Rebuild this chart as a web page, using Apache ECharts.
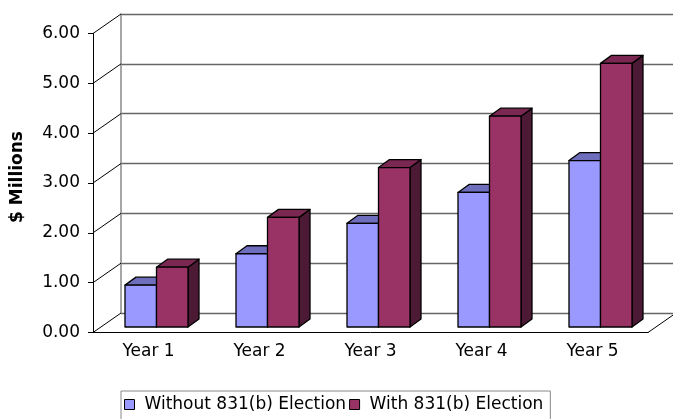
<!DOCTYPE html>
<html>
<head>
<meta charset="UTF-8">
<title>831(b) Election</title>
<style>
  html, body { margin: 0; padding: 0; background: #fff; }
  #chart { width: 673px; height: 419px; }
</style>
</head>
<body>
<div id="chart"></div>
<script src="https://cdn.jsdelivr.net/npm/echarts@6/dist/echarts.min.js"></script>
<script>
var years = ['Year 1', 'Year 2', 'Year 3', 'Year 4', 'Year 5'];
var withoutElection = [0.84, 1.47, 2.08, 2.70, 3.34];
var withElection = [1.20, 2.20, 3.20, 4.23, 5.29];
var yTicks = [0, 1, 2, 3, 4, 5, 6];

var FONT = '"DejaVu Sans", "Liberation Sans", sans-serif';
// depth of the 3d box (back wall offset) and bar placement inside it
var WALL_DX = 28, WALL_DY = -19.5;
var BAR_DX = 8, BAR_DY = -5.5;
var BAR_DEPTH_X = 11, BAR_DEPTH_Y = -8;
var BAR_W = 31.5;

function barRenderer(slot, front, top, side) {
  return function (params, api) {
    var idx = api.value(0);
    var p = api.coord([idx, api.value(1)]);
    var b = api.coord([idx, 0]);
    var L = p[0] - BAR_W + slot * BAR_W + BAR_DX;
    var R = L + BAR_W;
    var T = p[1] + BAR_DY;
    var B = b[1] + BAR_DY;
    var st = { stroke: '#000', lineWidth: 1.3, lineJoin: 'round' };
    return {
      type: 'group',
      children: [
        { type: 'polygon', shape: { points: [[R, T], [R + BAR_DEPTH_X, T + BAR_DEPTH_Y], [R + BAR_DEPTH_X, B + BAR_DEPTH_Y], [R, B]] },
          style: Object.assign({ fill: side }, st) },
        { type: 'polygon', shape: { points: [[L, T], [R, T], [R + BAR_DEPTH_X, T + BAR_DEPTH_Y], [L + BAR_DEPTH_X, T + BAR_DEPTH_Y]] },
          style: Object.assign({ fill: top }, st) },
        { type: 'rect', shape: { x: L, y: T, width: BAR_W, height: B - T },
          style: Object.assign({ fill: front }, st) }
      ]
    };
  };
}

function wallRenderer(params, api) {
  var cs = params.coordSys;
  var children = [];
  yTicks.forEach(function (t) {
    var y = api.coord([0, t])[1];
    children.push({ type: 'line', shape: { x1: cs.x, y1: y, x2: cs.x + WALL_DX, y2: y + WALL_DY },
      style: { stroke: '#000', lineWidth: 1 } });
  });
  var yb = cs.y + cs.height;
  var xr = cs.x + cs.width;
  children.push({ type: 'line', shape: { x1: xr, y1: yb, x2: xr + WALL_DX, y2: yb + WALL_DY },
    style: { stroke: '#000', lineWidth: 1 } });
  return { type: 'group', children: children };
}

var chart = echarts.init(document.getElementById('chart'));
chart.setOption({
  animation: false,
  legend: {
    left: 121, top: 391,
    data: ['Without 831(b) Election', 'With 831(b) Election'],
    icon: 'rect',
    itemWidth: 10, itemHeight: 10, itemGap: 3,
    padding: [5, 7, 8, 3],
    borderColor: '#888', borderWidth: 1,
    itemStyle: { borderColor: '#000', borderWidth: 1 },
    textStyle: { fontFamily: FONT, fontSize: 17, color: '#000', padding: [0, 0, 0, 5] }
  },
  grid: [
    { left: 93, top: 33.5, width: 555, height: 299 },
    { left: 93 + WALL_DX, top: 33.5 + WALL_DY, width: 555, height: 299 }
  ],
  xAxis: [
    { type: 'category', gridIndex: 0, data: years,
      axisLine: { lineStyle: { color: '#000', width: 1 } },
      axisTick: { length: 5, lineStyle: { color: '#000' } },
      axisLabel: { color: '#000', fontFamily: FONT, fontSize: 17, margin: 11 } },
    { type: 'category', gridIndex: 1, data: years, show: false }
  ],
  yAxis: [
    { type: 'value', gridIndex: 0, min: 0, max: 6, interval: 1,
      name: '$ Millions', nameLocation: 'middle', nameGap: 67, nameRotate: 90,
      nameTextStyle: { fontFamily: FONT, fontSize: 17, fontWeight: 'bold', color: '#000',
        padding: [0, 0, 0, 12] },
      axisLine: { show: true, lineStyle: { color: '#000', width: 1 } },
      axisTick: { show: true, length: 5, lineStyle: { color: '#000' } },
      axisLabel: { color: '#000', fontFamily: FONT, fontSize: 17, margin: 13,
        formatter: function (v) { return v.toFixed(2); } },
      splitLine: { show: false } },
    { type: 'value', gridIndex: 1, min: 0, max: 6, interval: 1,
      axisLine: { show: true, lineStyle: { color: '#888', width: 1.5 } },
      axisTick: { show: false }, axisLabel: { show: false },
      splitLine: { show: true, lineStyle: { color: '#666', width: 1.3 } } }
  ],
  series: [
    { type: 'custom', name: 'walls', xAxisIndex: 0, yAxisIndex: 0, z: 1, silent: true,
      data: [[0, 0]], renderItem: wallRenderer },
    { type: 'custom', name: 'Without 831(b) Election', xAxisIndex: 0, yAxisIndex: 0, z: 3,
      itemStyle: { color: '#9999FF' },
      data: withoutElection.map(function (v, i) { return [i, v]; }),
      renderItem: barRenderer(0, '#9999FF', '#6E6EBC', '#4A4A8C') },
    { type: 'custom', name: 'With 831(b) Election', xAxisIndex: 0, yAxisIndex: 0, z: 4,
      itemStyle: { color: '#993366' },
      data: withElection.map(function (v, i) { return [i, v]; }),
      renderItem: barRenderer(1, '#993366', '#7A2852', '#4D1A35') }
  ]
});
</script>
</body>
</html>
